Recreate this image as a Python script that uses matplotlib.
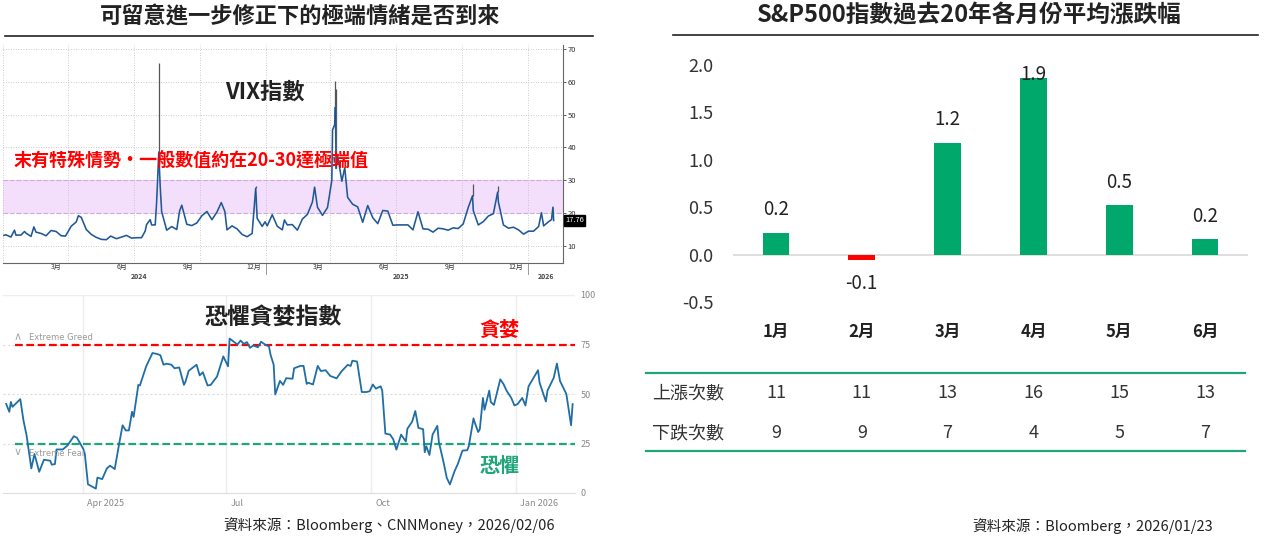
import matplotlib
matplotlib.use('Agg')
import matplotlib.pyplot as plt
import pandas as pd
from matplotlib.transforms import blended_transform_factory

W, H = 1264, 537

plt.rcParams['font.family'] = ['Noto Sans CJK TC', 'DejaVu Sans']
plt.rcParams['axes.unicode_minus'] = False

# ---- VIX (Bloomberg) ----
vix_dates = [
    '2024-01-02', '2024-01-05', '2024-01-12', '2024-01-17', '2024-01-19', '2024-01-26', '2024-01-31',
    '2024-02-02', '2024-02-09', '2024-02-13', '2024-02-16', '2024-02-23', '2024-03-01', '2024-03-08',
    '2024-03-15', '2024-03-22', '2024-03-28', '2024-04-05', '2024-04-12', '2024-04-15', '2024-04-19',
    '2024-04-26', '2024-05-03', '2024-05-10', '2024-05-17', '2024-05-24', '2024-05-30', '2024-06-07',
    '2024-06-14', '2024-06-21', '2024-06-28', '2024-07-05', '2024-07-12', '2024-07-17', '2024-07-19',
    '2024-07-24', '2024-07-26', '2024-07-31', '2024-08-02', '2024-08-05', '2024-08-07', '2024-08-09',
    '2024-08-16', '2024-08-23', '2024-08-30', '2024-09-03', '2024-09-06', '2024-09-13', '2024-09-20',
    '2024-09-27', '2024-10-04', '2024-10-11', '2024-10-18', '2024-10-25', '2024-10-31', '2024-11-05',
    '2024-11-08', '2024-11-15', '2024-11-22', '2024-11-29', '2024-12-06', '2024-12-13', '2024-12-18',
    '2024-12-20', '2024-12-27', '2024-12-31',
    '2025-01-03', '2025-01-10', '2025-01-17', '2025-01-24', '2025-01-27', '2025-01-31', '2025-02-07',
    '2025-02-14', '2025-02-21', '2025-02-28', '2025-03-07', '2025-03-10', '2025-03-14', '2025-03-21',
    '2025-03-28', '2025-04-03', '2025-04-04', '2025-04-07', '2025-04-08', '2025-04-09', '2025-04-11',
    '2025-04-17', '2025-04-21', '2025-04-25', '2025-05-02', '2025-05-09', '2025-05-16', '2025-05-23',
    '2025-05-30', '2025-06-06', '2025-06-13', '2025-06-20', '2025-06-27', '2025-07-03', '2025-07-11',
    '2025-07-18', '2025-07-25', '2025-08-01', '2025-08-08', '2025-08-15', '2025-08-22', '2025-08-29',
    '2025-09-05', '2025-09-12', '2025-09-19', '2025-09-26', '2025-10-03', '2025-10-10', '2025-10-16',
    '2025-10-17', '2025-10-24', '2025-10-31', '2025-11-07', '2025-11-14', '2025-11-20', '2025-11-21',
    '2025-11-28', '2025-12-05', '2025-12-12', '2025-12-19', '2025-12-26',
    '2026-01-02', '2026-01-09', '2026-01-16', '2026-01-20', '2026-01-23', '2026-01-30', '2026-02-03',
    '2026-02-05', '2026-02-06']
vix_close = [
    13.2, 13.4, 12.7, 14.8, 13.3, 13.3, 14.4,
    13.9, 12.9, 15.8, 14.2, 13.8, 13.1, 14.7,
    14.4, 13.1, 13.0, 16.0, 17.3, 19.2, 18.7,
    15.0, 13.5, 12.6, 12.0, 11.9, 13.0, 12.2,
    12.7, 13.2, 12.4, 12.5, 12.5, 14.5, 16.5,
    18.0, 16.4, 16.4, 23.4, 38.6, 27.9, 20.4,
    14.8, 15.9, 15.0, 20.7, 22.4, 16.6, 16.2,
    17.0, 19.2, 20.5, 18.0, 20.3, 23.2, 20.5,
    14.9, 16.1, 15.2, 13.5, 12.8, 13.8, 27.6,
    18.4, 15.95, 17.35,
    16.1, 19.5, 16.0, 14.9, 17.9, 16.4, 16.5,
    14.8, 18.2, 19.6, 23.4, 27.9, 21.8, 19.3,
    21.7, 30.0, 45.3, 47.0, 52.3, 33.6, 37.6,
    29.7, 33.8, 24.8, 22.7, 21.9, 17.2, 22.3,
    18.6, 16.8, 20.8, 20.6, 16.3, 16.4, 16.4,
    16.4, 14.9, 20.4, 15.2, 15.1, 14.2, 15.4,
    15.2, 14.8, 15.5, 15.3, 16.7, 21.7, 25.3,
    20.8, 16.4, 17.4, 19.1, 19.8, 26.4, 23.4,
    16.4, 15.4, 15.7, 14.9, 13.6,
    14.5, 14.5, 15.9, 20.1, 16.1, 17.4, 18.0,
    21.8, 17.76]
# intraday highs drawn as thin wicks
vix_high_dates = ['2024-08-05', '2024-12-18', '2025-04-07', '2025-04-09', '2025-10-16', '2025-11-20']
vix_highs = [65.7, 28.3, 60.1, 57.9, 29.0, 28.3]
vix_band = (20, 30)

# ---- CNN Fear & Greed index ----
fg_dates = [
    '2025-02-11', '2025-02-13', '2025-02-14', '2025-02-15', '2025-02-20', '2025-02-22', '2025-02-24', '2025-02-27',
    '2025-03-01', '2025-03-04', '2025-03-07', '2025-03-11', '2025-03-12', '2025-03-14', '2025-03-15', '2025-03-19',
    '2025-03-22', '2025-03-26', '2025-03-28',
    '2025-04-01', '2025-04-02', '2025-04-04', '2025-04-09', '2025-04-10', '2025-04-13', '2025-04-16', '2025-04-18',
    '2025-04-21', '2025-04-24', '2025-04-26', '2025-04-28', '2025-04-30',
    '2025-05-02', '2025-05-03', '2025-05-06', '2025-05-07', '2025-05-11', '2025-05-15', '2025-05-18', '2025-05-20',
    '2025-05-22', '2025-05-24', '2025-05-27', '2025-05-29',
    '2025-06-01', '2025-06-04', '2025-06-05', '2025-06-07', '2025-06-12', '2025-06-14', '2025-06-16', '2025-06-19',
    '2025-06-21', '2025-06-25', '2025-06-29',
    '2025-07-02', '2025-07-03', '2025-07-08', '2025-07-10', '2025-07-12', '2025-07-14', '2025-07-16', '2025-07-18',
    '2025-07-21', '2025-07-23', '2025-07-26', '2025-07-28', '2025-07-29', '2025-07-31',
    '2025-08-01', '2025-08-04', '2025-08-06', '2025-08-08', '2025-08-12', '2025-08-13', '2025-08-17', '2025-08-19',
    '2025-08-21', '2025-08-22', '2025-08-25', '2025-08-28', '2025-08-30',
    '2025-09-02', '2025-09-05', '2025-09-09', '2025-09-12', '2025-09-16', '2025-09-18', '2025-09-19', '2025-09-22',
    '2025-09-24', '2025-09-25', '2025-09-28', '2025-09-30',
    '2025-10-02', '2025-10-04', '2025-10-07', '2025-10-08', '2025-10-10', '2025-10-13', '2025-10-15', '2025-10-17',
    '2025-10-20', '2025-10-23', '2025-10-24', '2025-10-27', '2025-10-29', '2025-10-31',
    '2025-11-03', '2025-11-04', '2025-11-05', '2025-11-07', '2025-11-09', '2025-11-12', '2025-11-13', '2025-11-16',
    '2025-11-18', '2025-11-20', '2025-11-23', '2025-11-25', '2025-11-28',
    '2025-12-01', '2025-12-02', '2025-12-05', '2025-12-06', '2025-12-08', '2025-12-09', '2025-12-11', '2025-12-12',
    '2025-12-15', '2025-12-16', '2025-12-18', '2025-12-20', '2025-12-22', '2025-12-24', '2025-12-26', '2025-12-29',
    '2025-12-31',
    '2026-01-02', '2026-01-05', '2026-01-07', '2026-01-09', '2026-01-12', '2026-01-15', '2026-01-16', '2026-01-20',
    '2026-01-21', '2026-01-25', '2026-01-27', '2026-01-29',
    '2026-02-02', '2026-02-05', '2026-02-06']
fg_values = [
    45, 41, 46, 43.5, 47.4, 36.7, 29, 12.4,
    19.7, 10.7, 16.8, 16.3, 14.3, 14.6, 22, 22, 24, 28.7, 27.9,
    22.3, 19.7, 4.4, 2.2, 7.8, 7, 12.4, 13.8, 12.1, 25.7, 34.2, 31.6, 31.6,
    41, 38.4, 54.6, 54.3, 64, 70.7, 70.2, 69.6, 64.8, 65.3, 64.8, 63,
    63.4, 54.6, 56.3, 61.7, 64.8, 59.4, 61, 54.3, 54.6, 58.8, 69,
    64, 78, 75, 77, 75.3, 76.2, 73.3, 74.5, 73.6, 76.4, 74.7, 74.1, 69.9, 64.8,
    49.8, 56.6, 54.6, 58, 57.7, 63, 64.2, 64.2, 55.1, 55.7, 54.8, 64.2, 61.6,
    62, 59.1, 57.9, 61.3, 64.7, 64.2, 66.8, 66.4, 56.2, 51, 51, 51.4,
    54.8, 52.7, 53.9, 51.7, 30, 29.5, 27.1, 21.9, 29.5, 26, 32.5, 36, 41.4, 32.9,
    32.2, 20.6, 23.6, 19.2, 29.5, 33.9, 25.7, 15.4, 7.7, 4.3, 11.1, 14.6, 21.4,
    21.6, 23.6, 37.7, 35.1, 30.8, 32.2, 48, 42, 51.7, 45.9, 44.5, 51, 57.4, 55.1, 51.7, 48, 44.2,
    44.9, 48, 44.2, 53.9, 57.9, 62, 55.7, 46.2, 51.7, 58.2, 65.4, 56.5,
    50, 34.2, 44.9]
fg_greed = 75
fg_fear = 25

# ---- S&P500 monthly stats (20y) ----
months = ['1月', '2月', '3月', '4月', '5月', '6月']
avg_returns = [0.23, -0.06, 1.18, 1.86, 0.52, 0.16]
up_counts = [11, 11, 13, 16, 15, 13]
down_counts = [9, 9, 7, 4, 5, 7]

GREEN = '#00a86b'
RED = '#ff0000'
TEAL = '#1fa57a'


def fx(px):
    return px / W


def fy(py):
    return 1 - py / H


fig = plt.figure(figsize=(W / 100, H / 100), dpi=100)

# ================= left panel =================
fig.text(fx(300), fy(16), '可留意進一步修正下的極端情緒是否到來', ha='center', va='center',
         fontsize=16, fontweight='bold', color='#222')
fig.add_artist(plt.Line2D([fx(5), fx(593)], [fy(36), fy(36)], color='#222', lw=1.2))

# --- VIX ---
ax = fig.add_axes([fx(3), fy(263), (563 - 3) / W, (263 - 45) / H])
vd = pd.to_datetime(vix_dates)
ax.axhspan(vix_band[0], vix_band[1], color='#f3defc', zorder=0, lw=0)
for lvl in vix_band:
    ax.axhline(lvl, color='#d6a4ef', lw=0.8, ls=(0, (4, 2)), zorder=1)
close_by_date = dict(zip(vd, vix_close))
for d, hi in zip(pd.to_datetime(vix_high_dates), vix_highs):
    ax.vlines(d, close_by_date[d], hi, color='#555', lw=0.9, zorder=2)
ax.plot(vd, vix_close, color='#2d72bd', lw=1.2, zorder=3)
ax.plot(vd, vix_close, color='#222', lw=0.45, alpha=0.55, zorder=3)
ax.set_xlim(pd.Timestamp('2024-01-01'), pd.Timestamp('2026-02-19'))
ax.set_ylim(4.8, 71.2)
ax.yaxis.tick_right()
ax.set_yticks(range(10, 71, 10))
ax.tick_params(axis='y', labelsize=5.5, length=2.5, width=0.6, color='#444', labelcolor='#333', pad=1)
mid_months = pd.to_datetime(['2024-03-15', '2024-06-15', '2024-09-15', '2024-12-15',
                             '2025-03-15', '2025-06-15', '2025-09-15', '2025-12-15'])
ax.set_xticks(mid_months)
ax.set_xticklabels([f'{d.month}月' for d in mid_months])
ax.tick_params(axis='x', labelsize=5, length=0, pad=0.3, labelcolor='#333')
quarters = pd.date_range('2024-01-01', '2026-01-01', freq='QS')
ax.set_xticks(quarters, minor=True)
ax.tick_params(axis='x', which='minor', length=0)
ax.grid(axis='y', ls=(0, (1, 2)), color='#bbbbbb', lw=0.6)
ax.grid(axis='x', which='minor', ls=(0, (1, 2)), color='#bbbbbb', lw=0.6)
for s in ['left', 'top']:
    ax.spines[s].set_visible(False)
for s in ['bottom', 'right']:
    ax.spines[s].set_color('#666')
    ax.spines[s].set_linewidth(0.8)
tr = blended_transform_factory(ax.transData, ax.transAxes)
for yr, mid in [('2024', '2024-07-08'), ('2025', '2025-07-08'), ('2026', '2026-01-26')]:
    ax.text(pd.Timestamp(mid), -0.064, yr, transform=tr, ha='center', va='center',
            fontsize=5, fontweight='bold', color='#444')
for yb in ['2025-01-01', '2026-01-01']:
    ax.plot([pd.Timestamp(yb)] * 2, [0, -0.05], transform=tr, color='#888', lw=0.6, clip_on=False)
ax.text(1.004, vix_close[-1], f'{vix_close[-1]:.2f}', transform=blended_transform_factory(ax.transAxes, ax.transData),
        ha='left', va='center', fontsize=5.5, color='white',
        bbox=dict(boxstyle='square,pad=0.15', fc='black', ec='black'))

fig.text(fx(265), fy(92), 'VIX指數', ha='center', va='center', fontsize=16, fontweight='bold', color='#222')
fig.text(fx(14), fy(161), '末有特殊情勢·一般數值約在20-30達極端值', ha='left', va='center',
         fontsize=13, fontweight='bold', color=RED)

# --- Fear & Greed ---
ax2 = fig.add_axes([fx(3), fy(493), (575 - 3) / W, (493 - 295) / H])
fd = pd.to_datetime(fg_dates)
ax2.set_xlim(pd.Timestamp('2025-02-09'), pd.Timestamp('2026-02-07 12:00'))
ax2.set_ylim(0, 100)
qlines = pd.to_datetime(['2025-04-01', '2025-07-01', '2025-10-01', '2026-01-01'])
for q in qlines:
    ax2.axvline(q, color='#ececec', lw=1, zorder=0)
for lvl in [25, 50, 75]:
    ax2.axhline(lvl, color='#dddddd', lw=0.8, ls=(0, (2, 2)), zorder=0)
ax2.axhline(100, color='#eeeeee', lw=1, zorder=0)
xs = (15 - 3) / 572
ax2.axhline(fg_greed, xmin=xs, color=RED, lw=1.6, ls=(0, (3.5, 1.6)), zorder=2)
ax2.axhline(fg_fear, xmin=xs, color=TEAL, lw=1.6, ls=(0, (3.5, 1.6)), zorder=2)
ax2.plot(fd, fg_values, color='#1f6ea6', lw=1.3, zorder=3)
ax2.yaxis.tick_right()
ax2.set_yticks([0, 25, 50, 75, 100])
ax2.tick_params(axis='y', labelsize=6.5, length=0, pad=4, labelcolor='#888')
ax2.set_xticks([])
for s in ['left', 'top', 'right']:
    ax2.spines[s].set_visible(False)
ax2.spines['bottom'].set_color('#dddddd')
for q, lab in zip(qlines, ['Apr 2025', 'Jul', 'Oct', 'Jan 2026']):
    ax2.annotate(lab, xy=(q, 0), xycoords=('data', 'axes fraction'), xytext=(4, -11),
                 textcoords='offset pixels', ha='left', va='center', fontsize=6.5, color='#888')

fig.text(fx(18), fy(337), '∧', ha='center', va='center', fontsize=8, color='#aaa', family='DejaVu Sans')
fig.text(fx(29), fy(337), 'Extreme Greed', ha='left', va='center', fontsize=6, color='#999', family='DejaVu Sans')
fig.text(fx(18), fy(452), '∨', ha='center', va='center', fontsize=8, color='#aaa', family='DejaVu Sans')
fig.text(fx(29), fy(453), 'Extreme Fear', ha='left', va='center', fontsize=6, color='#999', family='DejaVu Sans')

fig.text(fx(273), fy(317), '恐懼貪婪指數', ha='center', va='center', fontsize=16.5, fontweight='bold', color='#222')
fig.text(fx(500), fy(329), '貪婪', ha='center', va='center', fontsize=14.5, fontweight='bold', color=RED)
fig.text(fx(500), fy(466), '恐懼', ha='center', va='center', fontsize=14.5, fontweight='bold', color=TEAL)

fig.text(fx(223), fy(525), '資料來源：Bloomberg、CNNMoney，2026/02/06', ha='left', va='center',
         fontsize=10.5, color='#222')

# ================= right panel =================
fig.text(fx(969), fy(15), 'S&P500指數過去20年各月份平均漲跌幅', ha='center', va='center',
         fontsize=17, fontweight='bold', color='#222')
fig.add_artist(plt.Line2D([fx(673), fx(1258)], [fy(35), fy(35)], color='#222', lw=1.2))

ax3 = fig.add_axes([fx(733), fy(302), 515 / W, (302 - 65) / H])
pos = list(range(len(months)))
ax3.axhline(0, color='#d9d9d9', lw=1.2, zorder=1)
ax3.bar(pos, avg_returns, width=0.31, color=[GREEN if v >= 0 else RED for v in avg_returns], zorder=2)
ax3.set_xlim(-0.5, len(months) - 0.5)
ax3.set_ylim(-0.5, 2.0)
px_per_unit = (302 - 65) / 2.5
off = 23 / px_per_unit
cap = 2.0 - 9 / px_per_unit
for i, v in enumerate(avg_returns):
    ly = min(v + off, cap) if v >= 0 else v - off
    ax3.text(i, ly, f'{v:.1f}', ha='center', va='center', fontsize=13.5, color='#222')
ax3.set_yticks([-0.5, 0, 0.5, 1.0, 1.5, 2.0])
ax3.set_yticklabels([f'{t:.1f}' for t in [-0.5, 0, 0.5, 1.0, 1.5, 2.0]])
ax3.tick_params(axis='y', labelsize=13, length=0, pad=14, labelcolor='#333')
ax3.set_xticks(pos)
ax3.set_xticklabels(months, fontweight='bold')
ax3.tick_params(axis='x', labelsize=12, length=0, pad=15, labelcolor='#222')
for s in ax3.spines.values():
    s.set_visible(False)

# table under the bars
tt = blended_transform_factory(ax3.transData, fig.transFigure)
fig.add_artist(plt.Line2D([fx(646), fx(1245)], [fy(373), fy(373)], color=TEAL, lw=1.6))
fig.add_artist(plt.Line2D([fx(646), fx(1245)], [fy(451), fy(451)], color=TEAL, lw=1.6))
fig.text(fx(652), fy(393), '上漲次數', ha='left', va='center', fontsize=13, color='#333')
fig.text(fx(652), fy(433), '下跌次數', ha='left', va='center', fontsize=13, color='#333')
for i, (u, d) in enumerate(zip(up_counts, down_counts)):
    fig.text(i, fy(393), str(u), transform=tt, ha='center', va='center', fontsize=13, color='#333')
    fig.text(i, fy(433), str(d), transform=tt, ha='center', va='center', fontsize=13, color='#333')

fig.text(fx(972), fy(526), '資料來源：Bloomberg，2026/01/23', ha='left', va='center',
         fontsize=10.5, color='#222')

fig.savefig('out.png', dpi=100)
